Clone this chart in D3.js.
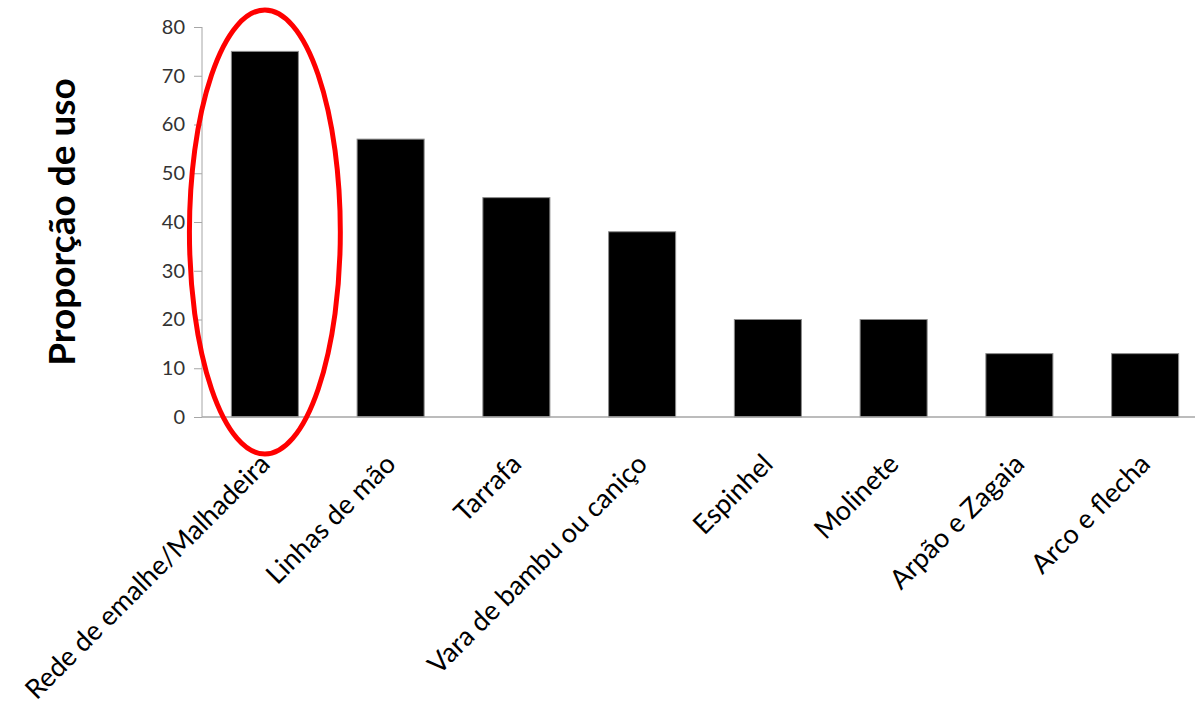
<!DOCTYPE html>
<html>
<head>
<meta charset="utf-8">
<script src="https://cdn.jsdelivr.net/npm/d3@7"></script>
<style>
  body { margin: 0; background: #fff; }
  text { font-family: Lato, "Open Sans", sans-serif; }
</style>
</head>
<body>
<div id="chart"></div>
<script>
var width = 1195;
var height = 711;

// data
var categories = ["Rede de emalhe/Malhadeira", "Linhas de mão", "Tarrafa", "Vara de bambu ou caniço",
  "Espinhel", "Molinete", "Arpão e Zagaia", "Arco e flecha"];
var values = [75, 57, 45, 38, 20, 20, 13, 13];
var yTicks = [0, 10, 20, 30, 40, 50, 60, 70, 80];
var yTitle = "Proporção de uso";

var svg = d3.select("#chart")
  .append("svg")
  .attr("width", width)
  .attr("height", height);

var x = d3.scaleBand()
  .domain(categories)
  .range([202, 1208])
  .paddingInner(0.467)
  .paddingOuter(0.2335);

var y = d3.scaleLinear()
  .domain([0, 80])
  .range([417, 27]);

// y axis
var yAxis = svg.append("g")
  .attr("transform", "translate(202,0)")
  .call(d3.axisLeft(y).tickValues(yTicks).tickSize(8).tickPadding(9));
yAxis.selectAll("line").attr("stroke", "#a6a6a6");
yAxis.select(".domain").attr("stroke", "#a6a6a6").attr("d", "M0," + y(0) + "V" + y(80));
yAxis.selectAll("text")
  .attr("fill", "#333")
  .style("font-size", "20px");

// bars
svg.append("g")
  .selectAll("rect")
  .data(values)
  .enter()
  .append("rect")
  .attr("x", function(d, i) { return x(categories[i]); })
  .attr("y", function(d) { return y(d); })
  .attr("width", x.bandwidth())
  .attr("height", function(d) { return y(0) - y(d); })
  .attr("fill", "#000")
  .attr("stroke", "#8c8c8c")
  .attr("stroke-width", 1);

// x axis line
svg.append("line")
  .attr("x1", x.range()[0])
  .attr("x2", x.range()[1])
  .attr("y1", y(0))
  .attr("y2", y(0))
  .attr("stroke", "#a6a6a6")
  .attr("stroke-width", 1.5);

// category labels, rotated
svg.append("g")
  .selectAll("text")
  .data(categories)
  .enter()
  .append("text")
  .attr("transform", function(d) {
    return "translate(" + (x(d) + x.bandwidth() / 2) + "," + (y(0) + 42) + ") rotate(-45)";
  })
  .attr("text-anchor", "end")
  .attr("dy", "0.35em")
  .style("font-size", "27px")
  .attr("fill", "#000")
  .text(function(d) { return d; });

// y title
svg.append("text")
  .attr("transform", "translate(62," + (y(0) + y(80)) / 2 + ") rotate(-90)")
  .attr("text-anchor", "middle")
  .attr("dy", "0.35em")
  .style("font-size", "37px")
  .style("font-weight", "bold")
  .text(yTitle);

// red highlight round the first bar
var first = categories[0];
svg.append("ellipse")
  .attr("cx", x(first) + x.bandwidth() / 2)
  .attr("cy", (y(83.5) + y(-7.6)) / 2)
  .attr("rx", x.step() * 0.6)
  .attr("ry", (y(-7.6) - y(83.5)) / 2)
  .attr("fill", "none")
  .attr("stroke", "#ff0000")
  .attr("stroke-width", 5);
</script>
</body>
</html>
